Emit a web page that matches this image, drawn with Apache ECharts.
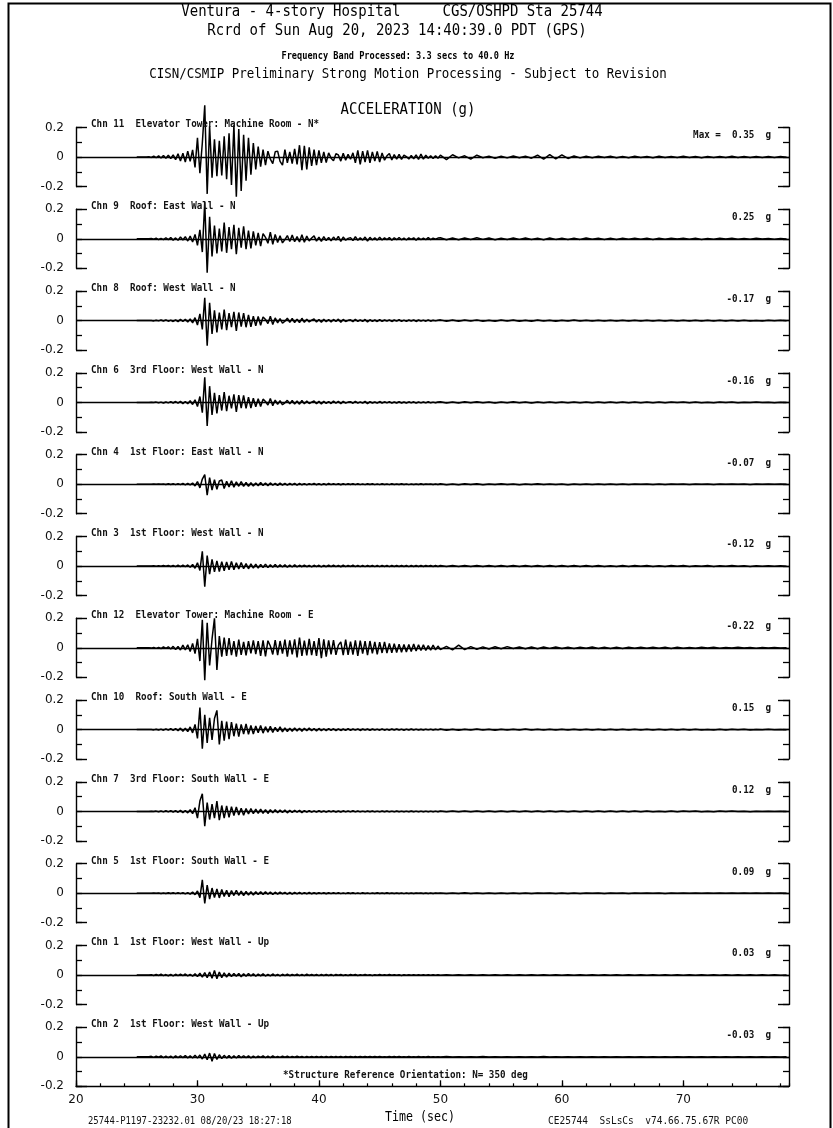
<!DOCTYPE html>
<html><head><meta charset="utf-8">
<script src="https://cdn.jsdelivr.net/npm/echarts@6/dist/echarts.min.js"></script>
<style>html,body{margin:0;padding:0;background:#fff}#c{width:833px;height:1128px}</style>
</head><body><div id="c"></div><script>
// time base of the hand-read samples (seconds)
const T0 = 25.0, DT = 0.2, TAIL_T0 = 50.0, TAIL_DT = 0.5;
const X_MIN = 20, X_MAX = 78.7;

// acceleration samples in thousandths of g
const ch11 = [0,0,0,0,0,1,-3,6,-5,8,-7,10,-9,12,-10,14,-18,22,-28,25,-34,40,-30,48,-70,
130,-110,95,350,-250,210,-140,120,-130,110,-125,140,-150,160,-190,215,-270,190,-230,150,-160,130,-120,95,-85,
70,-65,50,-55,40,-15,-45,35,40,-30,-55,50,-40,35,-45,55,-50,80,-90,75,-85,65,-60,50,-55,
45,-40,35,-38,28,-8,-25,22,14,-28,25,-22,18,-15,28,-40,45,-50,40,-35,45,-40,35,-28,38,
-35,28,-22,8,24,-20,16,-14,18,-16,12,3,-14,10,-12,14,-16,20,-14,12,-9,8,-10,9,-8];
const ch11Tail = [12,-18,15,-6,8,-14,12,-5,6,-8,5,-6,7,-5,6,-8,12,-14,16,-12,14,-10,7,-6,5,-5,6,-4,5,-5,4,-5,6,-4,4,-5,5,-4,4,-3,5,-4,4,-5,4,-3,4,-4,5,-4,3,-4,4,-3,4,-4,3,-2];

const ch9 = [0,0,0,0,0,0,2,-3,4,-5,3,-6,7,-5,8,-9,6,-10,12,-8,14,-15,18,-22,30,
-45,60,-90,250,-230,150,-120,90,-100,70,-85,110,-95,80,-70,95,-105,75,-60,85,-70,55,-65,50,-45,
40,-50,35,10,-30,45,-38,30,-25,20,-28,-5,22,-18,25,-20,15,-22,28,-24,18,-15,5,20,-16,
12,-18,15,-12,10,-14,12,-9,16,-18,12,-10,3,8,-12,14,-10,7,-9,12,-15,10,-8,6,-9,
11,-8,6,-5,8,-10,7,-6,9,-7,5,-8,6,-4,7,-9,6,-5,4,-6,8,-6,4,-3,5];
const ch9Tail = [7,-6,5,-7,6,-5,7,-4,5,-6,4,-5,6,-4,5,-5,4,-6,5,-4,4,-5,3,-4,5,-3,4,-4,3,-4,4,-3,4,-3,3,-4,3,-3,4,-2,3,-3,3,-4,2,-3,3,-2,3,-3,2,-3,3,-2,2,-3,2,-1];

const ch8 = [0,0,0,0,0,0,1,-2,3,-2,4,-3,5,-4,3,-6,5,-7,8,-6,9,-10,12,-15,20,
-30,45,-60,155,-170,120,-90,70,-80,55,-60,75,-65,50,-45,60,-70,55,-40,50,-45,38,-42,30,-35,
28,-32,25,8,-20,30,-26,18,-15,14,-18,-4,16,-12,15,-13,10,-14,16,-12,10,-9,3,12,-10,
8,-11,9,-8,7,-9,8,-6,10,-11,8,-6,2,5,-7,9,-6,5,-6,8,-9,6,-5,4,-6,
7,-5,4,-3,5,-6,4,-4,6,-5,3,-5,4,-3,5,-6,4,-3,3,-4,5,-4,3,-2,3];
const ch8Tail = [5,-4,4,-5,4,-3,5,-4,3,-4,4,-3,4,-4,3,-5,4,-3,3,-4,3,-3,4,-3,3,-3,2,-3,3,-2,3,-3,2,-3,3,-2,2,-3,2,-2,3,-2,2,-2,3,-2,2,-2,2,-3,2,-2,1,-2,2,-1,2,-1];

const ch6 = [0,0,0,0,0,0,1,-1,2,-3,2,-4,3,-3,5,-4,6,-5,7,-8,6,-9,11,-14,18,
-28,40,-70,170,-160,110,-85,65,-75,50,-55,70,-60,45,-40,55,-65,50,-38,48,-40,35,-38,28,-30,
25,-28,22,6,-18,26,-22,16,-14,12,-16,-3,14,-10,13,-11,9,-12,14,-10,9,-8,2,10,-9,
7,-10,8,-7,6,-8,9,-6,8,-9,7,-5,2,5,-6,8,-5,4,-5,7,-8,5,-4,3,-5,
6,-4,4,-3,5,-5,3,-4,5,-4,3,-4,4,-3,4,-5,3,-3,3,-3,4,-3,2,-2,3];
const ch6Tail = [4,-4,3,-4,4,-3,4,-3,3,-4,3,-3,4,-3,3,-4,3,-2,3,-3,2,-3,3,-2,3,-2,2,-3,2,-2,3,-2,2,-2,2,-3,2,-2,2,-1,2,-2,2,-2,1,-2,2,-1,2,-2,1,-1,2,-1,1,-2,1,-1];

const ch4 = [0,0,0,0,0,0,0,1,-1,2,-1,2,-2,3,-2,3,-3,4,-3,5,-4,6,-5,8,-12,
18,-25,35,65,-75,45,-40,30,-35,22,28,-30,20,-18,24,-20,16,-14,18,-15,12,-14,10,-12,9,
-10,11,-9,8,-10,9,-7,6,-8,7,-6,5,-7,6,-5,6,-7,5,-4,4,-5,4,-3,5,-4,
4,-5,3,-4,5,-3,4,-3,3,-4,4,-3,3,-2,4,-3,3,-3,2,-3,3,-2,3,-3,2,
-3,3,-2,2,-3,3,-2,2,-2,3,-2,2,-3,2,-2,2,-2,3,-2,2,-1,2,-2,2,-2];
const ch4Tail = [3,-3,2,-3,3,-2,3,-3,2,-2,3,-2,2,-3,2,-2,3,-2,2,-2,2,-3,2,-2,2,-2,2,-2,1,-2,2,-2,2,-1,2,-2,1,-2,2,-1,2,-2,1,-1,2,-2,1,-1,2,-1,1,-2,1,-1,1,-1,1,-1];

const ch3 = [0,0,0,0,0,0,0,1,-1,2,-2,3,-2,4,-3,4,-4,5,-4,6,-5,7,-8,10,-15,
22,-30,100,-140,70,-55,45,-40,35,-38,30,-32,28,-25,30,-26,22,-20,24,-18,16,-19,14,-15,12,
-14,11,-10,13,-11,9,-8,10,-9,8,-7,9,-8,6,-7,8,-6,5,-5,6,-5,4,-6,5,-4,
5,-6,4,-5,6,-4,5,-4,4,-5,5,-4,4,-3,5,-4,4,-4,3,-4,4,-3,4,-4,3,
-4,4,-3,3,-4,4,-3,3,-3,4,-3,3,-4,3,-3,3,-3,4,-3,3,-2,3,-3,3,-3];
const ch3Tail = [4,-4,3,-4,4,-3,4,-4,3,-3,4,-3,3,-4,3,-3,4,-3,3,-3,3,-4,3,-3,3,-3,3,-3,2,-3,3,-3,3,-2,3,-3,2,-3,3,-2,3,-3,2,-2,3,-3,2,-2,3,-2,2,-3,2,-2,2,-2,2,-1];

const ch12 = [0,0,0,0,0,1,-2,3,-4,3,-5,6,-4,7,-8,10,-12,9,-15,18,-14,20,-25,30,-40,
60,-90,190,-220,170,-120,60,200,-150,80,-60,70,-55,65,-50,45,-60,55,-48,40,-52,45,-38,50,-42,
45,-55,50,-58,48,12,-45,52,-50,46,-40,55,-60,50,-45,58,-65,70,-55,48,-52,60,-50,45,-55,
65,-70,58,-60,50,-45,52,-48,18,40,-50,55,-48,42,-46,50,-55,48,-40,45,-50,46,-38,40,-44,
38,-35,40,-36,30,-34,28,-32,25,-30,22,-28,22,-25,26,-22,20,-18,20,-18,15,-16,18,-14,12];
const ch12Tail = [-12,10,-14,18,-12,8,-10,6,-8,7,-6,8,-5,6,-7,5,-6,5,-4,6,-5,4,-5,4,-3,5,-4,3,-4,3,-4,4,-3,3,-3,4,-3,3,-4,3,-3,2,-3,3,-2,3,-3,2,-2,3,-2,2,-3,2,-2,2,-2,1];

const ch10 = [0,0,0,0,0,0,1,-2,2,-3,3,-4,5,-4,6,-5,7,-8,10,-12,9,-14,18,-22,35,
-60,150,-130,100,-90,80,-70,75,130,-100,60,-75,55,-65,50,-45,40,-48,35,-30,38,-32,28,-30,25,
-22,28,-24,20,-18,22,-20,16,-14,18,-15,12,-14,10,-12,11,-9,10,-12,9,-8,10,-8,7,-9,
8,-7,6,-8,7,-5,6,-7,5,-6,4,-5,6,-5,4,-4,5,-6,4,-3,4,-5,4,-3,3,
-4,5,-4,3,-4,4,-3,4,-3,3,-4,3,-3,4,-3,3,-3,2,-3,3,-2,3,-3,2,-2];
const ch10Tail = [4,-4,3,-4,3,-3,4,-3,3,-4,3,-3,3,-3,4,-3,2,-3,3,-3,3,-2,3,-3,2,-3,3,-2,3,-2,2,-3,2,-2,3,-2,2,-2,2,-3,2,-2,2,-2,1,-2,2,-2,2,-1,2,-2,1,-1,2,-1,1,-1];

const ch7 = [0,0,0,0,0,0,1,-1,2,-2,3,-3,4,-3,5,-4,5,-6,7,-8,6,-10,12,-15,25,
-45,70,120,-100,60,-55,50,-45,70,-60,40,-45,38,-40,32,-28,30,-25,22,-26,20,-18,20,-16,15,
-14,16,-13,12,-14,11,-10,12,-9,10,-8,9,-10,8,-7,8,-6,7,-8,6,-5,6,-5,4,-5,
5,-4,4,-5,4,-3,4,-4,3,-4,4,-3,3,-3,4,-3,3,-3,2,-3,3,-2,3,-3,2,
-3,3,-2,3,-3,2,-3,3,-2,2,-3,2,-2,3,-2,2,-2,2,-3,2,-2,2,-2,2,-2];
const ch7Tail = [3,-3,2,-3,3,-2,3,-3,2,-2,3,-2,2,-3,2,-2,3,-2,2,-2,2,-3,2,-2,2,-2,2,-2,2,-2,3,-2,2,-2,2,-2,1,-2,2,-2,2,-1,2,-2,1,-2,2,-1,2,-1,1,-2,1,-1,1,-1,1,-1];

const ch5 = [0,0,0,0,0,0,0,1,-1,1,-2,2,-2,3,-2,3,-3,4,-3,4,-5,4,-6,8,-10,
15,-30,90,-70,55,-40,35,-30,28,-32,25,-22,20,-24,18,-16,20,-15,14,-16,12,-13,11,-12,10,
-9,10,-8,9,-7,8,-9,7,-6,7,-5,6,-7,5,-6,5,-4,5,-5,4,-4,5,-4,3,-4,
4,-3,4,-4,3,-3,4,-3,3,-3,2,-3,3,-2,3,-3,2,-3,3,-2,2,-3,2,-2,3,
-2,2,-2,3,-2,2,-2,2,-2,2,-3,2,-2,2,-2,2,-1,2,-2,2,-2,1,-2,2,-1];
const ch5Tail = [2,-2,2,-2,3,-2,2,-2,2,-2,2,-2,1,-2,2,-2,2,-1,2,-2,2,-2,1,-2,2,-1,2,-2,1,-1,2,-2,1,-1,2,-1,1,-2,1,-1,2,-1,1,-1,1,-1,2,-1,1,-1,1,-1,1,-1,1,-1,1,-1];

const ch1 = [0,0,0,0,0,0,2,-3,4,-3,5,-4,3,-5,4,-6,5,-4,6,-5,7,-6,5,-8,9,
-10,12,-14,16,-18,20,-22,30,-25,20,-18,15,-14,12,-10,11,-9,10,-12,9,-8,10,-7,8,-9,
7,-6,8,-7,5,-6,7,-5,4,-6,5,-4,6,-5,4,-3,5,-4,3,-4,5,-3,4,-3,3,
-4,3,-3,4,-3,3,-4,3,-2,3,-3,2,-3,3,-2,3,-3,2,-2,3,-2,2,-3,2,-2,
3,-2,2,-2,3,-2,2,-2,2,-3,2,-2,2,-2,2,-2,1,-2,2,-2,2,-1,2,-2,1];
const ch1Tail = [-2,2,-2,2,-2,2,-1,2,-2,2,-2,1,-2,2,-1,2,-2,1,-1,2,-2,1,-2,1,-1,2,-1,1,-2,1,-1,1,-1,2,-1,1,-1,1,-1,1,-1,1,-2,1,-1,1,-1,1,-1,1,-1,1,-1,1,-1,1,-1,0];

const ch2 = [0,0,0,0,0,0,3,-4,5,-3,6,-5,4,-6,5,-7,6,-5,7,-6,8,-7,6,-8,10,
-9,12,-15,18,-20,25,-30,22,-18,14,-12,10,-9,8,-10,7,-8,9,-6,7,-5,6,-7,5,-6,
5,-4,6,-5,4,-5,6,-4,3,-4,5,-3,4,-4,3,-3,4,-3,3,-4,3,-2,3,-3,2,
-3,3,-2,3,-3,2,-2,3,-2,2,-3,2,-2,2,-2,3,-2,2,-2,2,-1,2,-2,2,-2,
2,-2,1,-2,2,-2,2,-1,2,-2,1,-2,2,-1,1,-2,2,-1,1,-1,2,-1,1,-2,1];
const ch2Tail = [-1,2,-1,1,-2,1,-1,2,-1,1,-1,1,-2,1,-1,1,-1,2,-1,1,-1,1,-1,1,-1,1,-2,1,-1,1,-1,1,-1,1,-1,1,-1,1,-1,1,-2,1,-1,1,-1,1,-1,1,-1,1,-1,1,-1,1,-1,1,-1,0];

// panels from top to bottom
const traces = [[ch11,ch11Tail],[ch9,ch9Tail],[ch8,ch8Tail],[ch6,ch6Tail],[ch4,ch4Tail],[ch3,ch3Tail],
                [ch12,ch12Tail],[ch10,ch10Tail],[ch7,ch7Tail],[ch5,ch5Tail],[ch1,ch1Tail],[ch2,ch2Tail]];
const channelLabels = [
  'Chn 11  Elevator Tower: Machine Room - N*',
  'Chn 9  Roof: East Wall - N',
  'Chn 8  Roof: West Wall - N',
  'Chn 6  3rd Floor: West Wall - N',
  'Chn 4  1st Floor: East Wall - N',
  'Chn 3  1st Floor: West Wall - N',
  'Chn 12  Elevator Tower: Machine Room - E',
  'Chn 10  Roof: South Wall - E',
  'Chn 7  3rd Floor: South Wall - E',
  'Chn 5  1st Floor: South Wall - E',
  'Chn 1  1st Floor: West Wall - Up',
  'Chn 2  1st Floor: West Wall - Up'];
const maxLabels = ['Max =  0.35  g','0.25  g','-0.17  g','-0.16  g','-0.07  g','-0.12  g',
                   '-0.22  g','0.15  g','0.12  g','0.09  g','0.03  g','-0.03  g'];
const yTickLabels = ['-0.2','0','0.2'];
const titleLines = ['Ventura - 4-story Hospital     CGS/OSHPD Sta 25744',
                    'Rcrd of Sun Aug 20, 2023 14:40:39.0 PDT (GPS)',
                    'Frequency Band Processed: 3.3 secs to 40.0 Hz',
                    'CISN/CSMIP Preliminary Strong Motion Processing - Subject to Revision'];
const subTitle = 'ACCELERATION (g)';
const noteText = '*Structure Reference Orientation: N= 350 deg';
const xAxisName = 'Time (sec)';
const footLeft = '25744-P1197-23232.01 08/20/23 18:27:18';
const footRight = 'CE25744  SsLsCs  v74.66.75.67R PC00';

// ---------- layout ----------
const N = traces.length;
const GRID_LEFT = 76, GRID_RIGHT = 44, TOP0 = 127.5, STEP = 81.8, GH = 59;
const MONO = '"DejaVu Sans Mono", "Liberation Mono", monospace';
const SANS = '"DejaVu Sans", sans-serif';
const BLACK = '#000';

function toPoints(main, tail) {
  const pts = main.map((v, i) => [T0 + i * DT, v / 1000]);
  tail.forEach((v, i) => pts.push([TAIL_T0 + i * TAIL_DT, v / 1000]));
  return pts;
}
const yFmt = v => Math.abs(v) < 1e-9 ? yTickLabels[1] : (v > 0.15 ? yTickLabels[2] : (v < -0.15 ? yTickLabels[0] : ''));

const grids = [], xAxes = [], yAxes = [], series = [], graphics = [];
for (let k = 0; k < N; k++) {
  const top = TOP0 + k * STEP;
  grids.push({left: GRID_LEFT, right: GRID_RIGHT, top: top, height: GH, containLabel: false, outerBoundsMode: 'none'});
  const last = (k === N - 1);
  const xi = xAxes.length;
  xAxes.push({type: 'value', gridIndex: k, min: X_MIN, max: X_MAX, position: 'bottom',
    show: last, interval: 10,
    axisLine: {show: true, onZero: false, lineStyle: {color: BLACK, width: 1.4}},
    axisTick: {show: true, inside: true, length: 6, lineStyle: {color: BLACK, width: 1.3}},
    axisLabel: {show: true, showMaxLabel: false, color: '#111', fontFamily: SANS, fontSize: 12, margin: 8},
    splitLine: {show: false}});
  if (last) {
    xAxes.push({type: 'value', gridIndex: k, min: X_MIN, max: X_MAX, position: 'bottom', interval: 2,
      axisLine: {show: false, onZero: false},
      axisTick: {show: true, inside: true, length: 3, lineStyle: {color: BLACK, width: 1.2}},
      axisLabel: {show: false}, splitLine: {show: false}});
  }
  const yi = yAxes.length;
  const common = {type: 'value', gridIndex: k, min: -0.2, max: 0.2, splitLine: {show: false}};
  yAxes.push(Object.assign({}, common, {position: 'left', interval: 0.1,
    axisLine: {show: true, onZero: false, lineStyle: {color: BLACK, width: 1.4}},
    axisTick: {show: true, inside: true, length: 6, lineStyle: {color: BLACK, width: 1.3}},
    axisLabel: {show: true, formatter: yFmt, color: '#111', fontFamily: SANS, fontSize: 12, margin: 12}}));
  yAxes.push(Object.assign({}, common, {position: 'left', interval: 0.4,
    axisLine: {show: false, onZero: false},
    axisTick: {show: true, inside: true, length: 11, lineStyle: {color: BLACK, width: 1.4}},
    axisLabel: {show: false}}));
  yAxes.push(Object.assign({}, common, {position: 'right', interval: 0.1,
    axisLine: {show: true, onZero: false, lineStyle: {color: BLACK, width: 1.4}},
    axisTick: {show: true, inside: true, length: 6, lineStyle: {color: BLACK, width: 1.3}},
    axisLabel: {show: false}}));
  yAxes.push(Object.assign({}, common, {position: 'right', interval: 0.4,
    axisLine: {show: false, onZero: false},
    axisTick: {show: true, inside: true, length: 11, lineStyle: {color: BLACK, width: 1.4}},
    axisLabel: {show: false}}));

  series.push({type: 'line', xAxisIndex: xi, yAxisIndex: yi, data: toPoints(traces[k][0], traces[k][1]),
    showSymbol: false, symbol: 'none', clip: false, silent: true, animation: false,
    lineStyle: {color: BLACK, width: 1.5}, z: 3,
    markLine: {silent: true, symbol: ['none', 'none'], label: {show: false}, animation: false,
      lineStyle: {color: BLACK, width: 1.3, type: 'solid'}, data: [{yAxis: 0}]}});

  graphics.push({type: 'text', x: 91, y: top - 3, scaleX: 0.84, z: 10,
    style: {text: channelLabels[k], font: 'bold 11px ' + MONO, fill: '#111', align: 'left', verticalAlign: 'middle'}});
  graphics.push({type: 'text', x: 771, y: top + GH / 2 - 21.5, scaleX: 0.84, z: 10,
    style: {text: maxLabels[k], font: 'bold 11px ' + MONO, fill: '#111', align: 'right', verticalAlign: 'middle'}});
}

graphics.push({type: 'rect', shape: {x: 8.5, y: 3.5, width: 822, height: 1140}, z: 0,
  style: {fill: 'none', stroke: BLACK, lineWidth: 2}});
const titleSpec = [[392, 12, 16, 0.875], [397, 31, 16, 0.875], [398, 56, 10, 0.86], [408, 74, 14, 0.89]];
titleLines.forEach((t, i) => {
  const s = titleSpec[i];
  graphics.push({type: 'text', x: s[0], y: s[1], scaleX: s[3], z: 10,
    style: {text: t, font: (i === 2 ? 'bold ' : '') + s[2] + 'px ' + MONO, fill: '#000', align: 'center', verticalAlign: 'middle'}});
});
graphics.push({type: 'text', x: 408, y: 110, scaleX: 0.875, z: 10,
  style: {text: subTitle, font: '16px ' + MONO, fill: '#000', align: 'center', verticalAlign: 'middle'}});
graphics.push({type: 'text', x: 283, y: 1075, scaleX: 0.84, z: 10,
  style: {text: noteText, font: 'bold 11px ' + MONO, fill: '#111', align: 'left', verticalAlign: 'middle'}});
graphics.push({type: 'text', x: 420, y: 1117, scaleX: 0.83, z: 10,
  style: {text: xAxisName, font: '14px ' + MONO, fill: '#000', align: 'center', verticalAlign: 'middle'}});
graphics.push({type: 'text', x: 88, y: 1121, scaleX: 0.89, z: 10,
  style: {text: footLeft, font: '10px ' + MONO, fill: '#111', align: 'left', verticalAlign: 'middle'}});
graphics.push({type: 'text', x: 548, y: 1121, scaleX: 0.95, z: 10,
  style: {text: footRight, font: '10px ' + MONO, fill: '#111', align: 'left', verticalAlign: 'middle'}});

const chart = echarts.init(document.getElementById('c'), null, {renderer: 'canvas'});
chart.setOption({
  backgroundColor: '#fff',
  animation: false,
  grid: grids, xAxis: xAxes, yAxis: yAxes, series: series,
  graphic: {elements: graphics}
});
</script></body></html>
